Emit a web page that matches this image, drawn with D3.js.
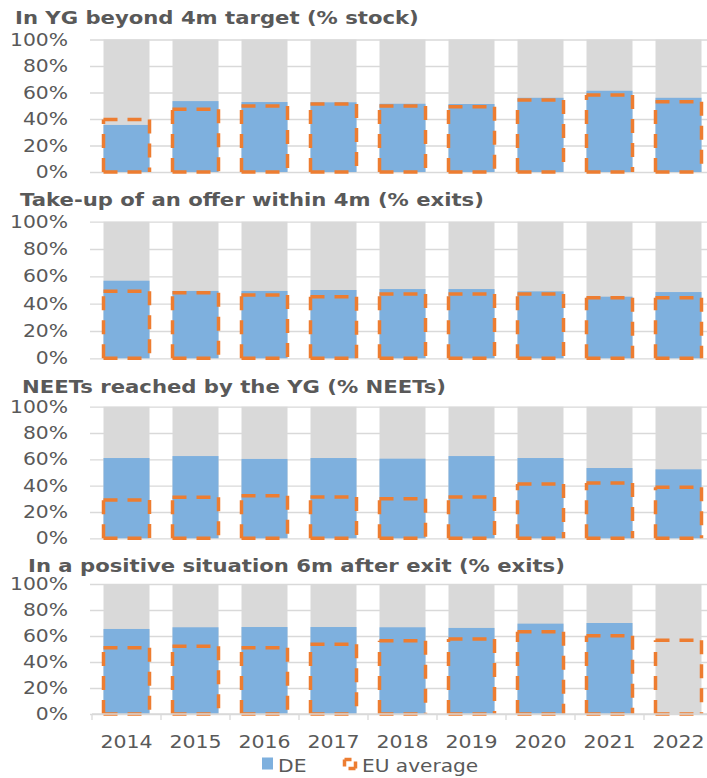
<!DOCTYPE html>
<html>
<head>
<meta charset="utf-8">
<script src="https://cdn.jsdelivr.net/npm/d3@7"></script>
<style>
  body { margin: 0; background: #fff; }
  text { font-family: Verdana, "DejaVu Sans", sans-serif; fill: #595959; }
  .title { font-weight: bold; }
</style>
</head>
<body>
<script>
var years = ['2014', '2015', '2016', '2017', '2018', '2019', '2020', '2021', '2022'];
var titles = [
  'In YG beyond 4m target (% stock)',
  'Take-up of an offer within 4m (% exits)',
  'NEETs reached by the YG (% NEETs)',
  'In a positive situation 6m after exit (% exits)'
];
var yTicks = [0, 20, 40, 60, 80, 100];

// DE and EU average, one pair per panel
var deBeyond4m = [35.5, 53.5, 52.8, 52.6, 51.5, 51.3, 56, 61.3, 56];
var euBeyond4m = [39.6, 47.3, 49.8, 51.3, 49.8, 49.3, 54.3, 58.1, 53];
var deTakeUp = [56.8, 49.3, 49.3, 50, 50.7, 50.7, 49, 45.1, 48.5];
var euTakeUp = [49, 48, 46.3, 45.1, 47.1, 47.1, 47.1, 44.4, 44.4];
var deReached = [61, 62.5, 60.3, 61, 60.5, 62.5, 61, 53.4, 52.4];
var euReached = [29.1, 31.1, 32.4, 31.4, 30.1, 31.4, 41.3, 42, 38.8];
var dePositive = [65.4, 66.7, 66.9, 66.9, 66.7, 66.2, 69.5, 70, null];
var euPositive = [51, 52.1, 51, 53.6, 56.4, 57.7, 63.3, 60.2, 56.7];

var deSeries = [deBeyond4m, deTakeUp, deReached, dePositive];
var euSeries = [euBeyond4m, euTakeUp, euReached, euPositive];

var width = 707, height = 778;
var grey = '#d9d9d9', blue = '#7eb0de', orange = '#ed7d31';

// panel plot tops / bottoms and title spots
var panelTop = [39.5, 221.7, 406.7, 584];
var panelBottom = [172, 358.3, 538.3, 714];
var titleX = [15, 20, 22, 28];
var titleY = [24, 206, 393, 572];

var svg = d3.select('body').append('svg')
  .attr('width', width)
  .attr('height', height);

var x = d3.scaleBand()
  .domain(years)
  .range([92, 713])
  .paddingInner(1 / 3)
  .paddingOuter(1 / 6);

function outline(x0, y0, x1, y1) {
  // each side its own subpath so dashes start at corners
  return 'M' + x0 + ',' + y0 + 'H' + x1 +
    'M' + x1 + ',' + y0 + 'V' + y1 +
    'M' + x0 + ',' + y1 + 'H' + x1 +
    'M' + x0 + ',' + y1 + 'V' + y0;
}

// Verdana is wider than DejaVu, stretch the text a bit
function widen(sel, f) {
  sel.each(function() {
    var len = this.getComputedTextLength();
    d3.select(this).attr('textLength', len * f).attr('lengthAdjust', 'spacingAndGlyphs');
  });
}

for (var p = 0; p < 4; p++) {
  var y = d3.scaleLinear().domain([0, 100]).range([panelBottom[p], panelTop[p]]);
  var g = svg.append('g');

  svg.append('text')
    .attr('class', 'title')
    .attr('x', titleX[p])
    .attr('y', titleY[p])
    .attr('font-size', 17.5)
    .text(titles[p])
    .call(widen, 1.21);

  var axis = g.append('g')
    .attr('transform', 'translate(90,0)')
    .call(d3.axisLeft(y)
      .tickValues(yTicks)
      .tickSize(-(width - 90))
      .tickPadding(22)
      .tickFormat(function(d) { return d + '%'; }));
  axis.select('.domain').remove();
  axis.selectAll('line').attr('stroke', grey).attr('stroke-width', 1.3);
  axis.selectAll('text').attr('font-size', 17.5).attr('fill', '#595959')
    .style('font-family', 'Verdana, "DejaVu Sans", sans-serif')
    .call(widen, 1.16);

  g.selectAll('.total').data(years).enter().append('rect')
    .attr('x', function(d) { return x(d); })
    .attr('width', x.bandwidth())
    .attr('y', y(100))
    .attr('height', y(0) - y(100))
    .attr('fill', grey);

  var de = deSeries[p];
  g.selectAll('.de').data(years.filter(function(d, i) { return de[i] != null; }))
    .enter().append('rect')
    .attr('x', function(d) { return x(d); })
    .attr('width', x.bandwidth())
    .attr('y', function(d) { return y(de[years.indexOf(d)]); })
    .attr('height', function(d) { return y(0) - y(de[years.indexOf(d)]); })
    .attr('fill', blue);

  var eu = euSeries[p];
  g.selectAll('.eu').data(years).enter().append('path')
    .attr('d', function(d, i) {
      return outline(x(d), y(eu[i]), x(d) + x.bandwidth(), y(0));
    })
    .attr('fill', 'none')
    .attr('stroke', orange)
    .attr('stroke-width', 3.5)
    .attr('stroke-dasharray', '14 10');
}

// bottom axis of last panel
var step = x.step(), gap = step - x.bandwidth();
var base = panelBottom[3];
svg.append('line')
  .attr('x1', 92).attr('x2', width)
  .attr('y1', base).attr('y2', base)
  .attr('stroke', grey).attr('stroke-width', 1.3);
svg.selectAll('.xtick').data(years).enter().append('line')
  .attr('x1', function(d) { return x(d) - gap / 2; })
  .attr('x2', function(d) { return x(d) - gap / 2; })
  .attr('y1', base).attr('y2', base + 6)
  .attr('stroke', grey).attr('stroke-width', 1.3);

var xAxis = svg.append('g')
  .attr('transform', 'translate(0,' + base + ')')
  .call(d3.axisBottom(x).tickSize(0).tickPadding(22));
xAxis.select('.domain').remove();
xAxis.selectAll('text').attr('font-size', 17.5).attr('fill', '#595959')
  .style('font-family', 'Verdana, "DejaVu Sans", sans-serif')
  .call(widen, 1.17);

// legend
var legend = svg.append('g');
legend.append('rect')
  .attr('x', 262).attr('y', 757.5).attr('width', 11).attr('height', 12)
  .attr('fill', blue);
legend.append('text')
  .attr('x', 278).attr('y', 771.5).attr('font-size', 17.5).text('DE')
  .call(widen, 1.16);
var lx0 = 344.5, ly0 = 759.5, lx1 = 355.5, ly1 = 768.5;
legend.append('path')
  .attr('d', 'M' + lx0 + ',' + ly0 + 'H' + lx1 +
    'M' + lx1 + ',' + ly1 + 'V' + ly0 +
    'M' + lx1 + ',' + ly1 + 'H' + lx0 +
    'M' + lx0 + ',' + ly0 + 'V' + ly1)
  .attr('fill', 'none')
  .attr('stroke', orange)
  .attr('stroke-width', 3.5)
  .attr('stroke-dasharray', '7 20');
legend.append('text')
  .attr('x', 362).attr('y', 771.5).attr('font-size', 17.5).text('EU average')
  .call(widen, 1.15);
</script>
</body>
</html>
